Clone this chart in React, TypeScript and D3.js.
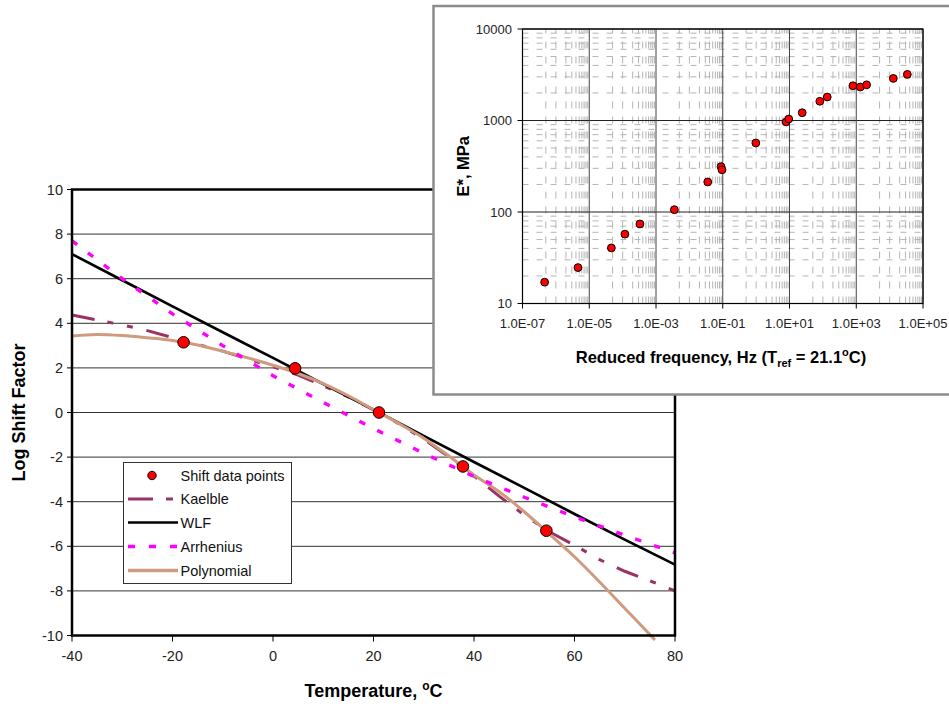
import React from "react";
import * as d3 from "d3";

// ---------- Main chart data ----------
const mainXTicks = [-40, -20, 0, 20, 40, 60, 80];
const mainYTicks = [-10, -8, -6, -4, -2, 0, 2, 4, 6, 8, 10];

const shiftTemps = [-17.8, 4.4, 21.1, 37.8, 54.4];
const shiftLog = [3.15, 1.98, 0, -2.42, -5.3];

const wlfTemps = [-40, -30, -20, -10, 0, 10, 20, 30, 40, 50, 60, 70, 80];
const wlfLog = [7.1, 5.93, 4.76, 3.6, 2.45, 1.28, 0.13, -1.05, -2.22, -3.38, -4.55, -5.7, -6.82];

const arrTemps = [-40, -30, -20, -10, 0, 10, 20, 30, 40, 50, 60, 70, 80];
const arrLog = [7.7, 6.0, 4.42, 3.0, 1.65, 0.45, -0.72, -1.83, -2.87, -3.8, -4.68, -5.5, -6.3];

const kaeTemps = [-40, -35, -30, -25, -20, -15, -10, -5, 0, 5, 10, 15, 20, 25, 30, 35, 40, 45, 50, 55, 60, 65, 70, 75, 80];
const kaeLog = [4.37, 4.15, 3.93, 3.67, 3.36, 3.05, 2.75, 2.4, 2.05, 1.68, 1.2, 0.7, 0.12, -0.5, -1.2, -1.98, -2.85, -3.75, -4.6, -5.35, -5.95, -6.6, -7.12, -7.55, -8.0];

const polyTemps = [-40, -35, -30, -25, -20, -15, -10, -5, 0, 5, 10, 15, 20, 25, 30, 35, 40, 45, 50, 55, 60, 65, 70, 75, 76];
const polyLog = [3.43, 3.5, 3.45, 3.35, 3.23, 3.03, 2.75, 2.45, 2.12, 1.75, 1.3, 0.75, 0.13, -0.49, -1.15, -1.95, -2.8, -3.55, -4.45, -5.45, -6.47, -7.6, -8.78, -9.96, -10.2];

const legendLabels = ["Shift data points", "Kaelble", "WLF", "Arrhenius", "Polynomial"];

// ---------- Inset data ----------
const insetXTicks = [1e-7, 1e-5, 1e-3, 1e-1, 1e1, 1e3, 1e5];
const insetXLabels = ["1.0E-07", "1.0E-05", "1.0E-03", "1.0E-01", "1.0E+01", "1.0E+03", "1.0E+05"];
const insetYTicks = [10, 100, 1000, 10000];
const insetYLabels = ["10", "100", "1000", "10000"];

const redFreq = [4.6e-7, 4.6e-6, 4.6e-5, 1.17e-4, 3.3e-4, 3.55e-3, 3.55e-2, 8.9e-2, 9.5e-2, 0.98, 7.9, 9.5, 24, 81, 135, 794, 1318, 2040, 12900, 33900];
const modulus = [17.1, 24.7, 40.5, 57.3, 74, 106, 213, 313, 289, 568, 964, 1038, 1216, 1622, 1806, 2398, 2322, 2455, 2883, 3190];

const FONT = '"Liberation Sans", Arial, Helvetica, sans-serif';

const COLORS = {
  kaelble: "#993366",
  wlf: "#000000",
  arr: "#ff00ff",
  poly: "#cf9a7e",
  point: "#ff0000",
};

export default function App() {
  // main chart scales
  const x = d3.scaleLinear().domain([-40, 80]).range([72, 675]);
  const y = d3.scaleLinear().domain([-10, 10]).range([635.5, 189.5]);

  const mk = (ts: number[], vs: number[]) =>
    d3
      .line<number>()
      .x((_, i) => x(ts[i]))
      .y((v) => y(v))(vs) || "";

  const kaePath = mk(kaeTemps, kaeLog);
  const wlfPath = mk(wlfTemps, wlfLog);
  const arrPath = mk(arrTemps, arrLog);
  const polyPath = d3
    .line<number>()
    .curve(d3.curveMonotoneX)
    .x((_, i) => x(polyTemps[i]))
    .y((v) => y(v))(polyLog) || "";

  const [x0, x1] = x.range();
  const [yb, yt] = y.range();

  // inset scales
  const ix = d3.scaleLog().domain([1e-7, 1e5]).range([522.5, 923]);
  const iy = d3.scaleLog().domain([10, 10000]).range([303.5, 29]);
  const [ix0, ix1] = ix.range();
  const [iyb, iyt] = iy.range();

  const minorX: number[] = [];
  for (let i = 0; i < insetXTicks.length - 1; i++) {
    const a = insetXTicks[i];
    minorX.push(a * 5);
    for (let m = 1; m <= 9; m++) minorX.push(a * 10 * m);
  }
  const minorY: number[] = [];
  for (let i = 0; i < insetYTicks.length - 1; i++) {
    for (let m = 2; m <= 9; m++) minorY.push(insetYTicks[i] * m);
  }

  // legend layout
  const lg = { x: 123.5, y: 462.5, w: 168, h: 121 };
  const rowY = [475.5, 499, 522.5, 546.5, 570.5];

  return (
    <svg
      width={949}
      height={707}
      style={{ position: "absolute", left: 0, top: 0, fontFamily: FONT, background: "#fff" }}
    >
      <rect x={0} y={0} width={949} height={707} fill="#fff" />
      {/* gridlines */}
      {mainYTicks.slice(1, -1).map((t) => (
        <line key={"g" + t} x1={x0} x2={x1} y1={y(t)} y2={y(t)} stroke="#333" strokeWidth={1} />
      ))}
      {/* y ticks and labels */}
      {mainYTicks.map((t) => (
        <g key={"yt" + t}>
          <line x1={x0 - 5} x2={x0} y1={y(t)} y2={y(t)} stroke="#000" strokeWidth={1} />
          <text x={63} y={y(t) + 5} textAnchor="end" fontSize={14.5} fill="#222">
            {t}
          </text>
        </g>
      ))}
      {mainXTicks.map((t) => (
        <g key={"xt" + t}>
          <line x1={x(t)} x2={x(t)} y1={yb} y2={yb + 6} stroke="#000" strokeWidth={1} />
          <text x={x(t)} y={661} textAnchor="middle" fontSize={14.5} fill="#222">
            {t}
          </text>
        </g>
      ))}

      {/* series */}
      <path d={kaePath} fill="none" stroke={COLORS.kaelble} strokeWidth={3} strokeDasharray="23,13,6,14,6,14" />
      <path d={wlfPath} fill="none" stroke={COLORS.wlf} strokeWidth={2.7} />
      <path d={polyPath} fill="none" stroke={COLORS.poly} strokeWidth={3} />
      <path d={arrPath} fill="none" stroke={COLORS.arr} strokeWidth={3.4} strokeDasharray="6.5,13.5" />
      {shiftTemps.map((t, i) => (
        <circle key={"p" + i} cx={x(t)} cy={y(shiftLog[i])} r={5.8} fill={COLORS.point} stroke="#000" strokeWidth={1} />
      ))}

      {/* plot border */}
      <rect x={x0} y={yt} width={x1 - x0} height={yb - yt} fill="none" stroke="#000" strokeWidth={2.5} />

      {/* axis titles */}
      <text
        transform={`translate(25,${(yt + yb) / 2}) rotate(-90)`}
        textAnchor="middle"
        fontSize={18}
        fontWeight="bold"
        fill="#000"
      >
        Log Shift Factor
      </text>
      <text x={(x0 + x1) / 2} y={697} textAnchor="middle" fontSize={18} fontWeight="bold" fill="#000">
        Temperature,{" "}
        <tspan fontSize={12} dy={-7}>
          o
        </tspan>
        <tspan dy={7}>C</tspan>
      </text>

      {/* legend */}
      <rect x={lg.x} y={lg.y} width={lg.w} height={lg.h} fill="#fff" stroke="#333" strokeWidth={1} />
      <circle cx={152} cy={rowY[0]} r={4.2} fill={COLORS.point} stroke="#000" strokeWidth={1} />
      <line x1={128} x2={178} y1={rowY[1]} y2={rowY[1]} stroke={COLORS.kaelble} strokeWidth={3} strokeDasharray="25,13,7,20" />
      <line x1={128} x2={178} y1={rowY[2]} y2={rowY[2]} stroke={COLORS.wlf} strokeWidth={2.7} />
      <line x1={128} x2={178} y1={rowY[3]} y2={rowY[3]} stroke={COLORS.arr} strokeWidth={3.4} strokeDasharray="7,14" />
      <line x1={128} x2={178} y1={rowY[4]} y2={rowY[4]} stroke={COLORS.poly} strokeWidth={3.5} />
      {legendLabels.map((l, i) => (
        <text key={l} x={180.5} y={rowY[i] + 5} fontSize={14.5} fill="#111">
          {l}
        </text>
      ))}

      {/* ---------- inset ---------- */}
      <rect x={433.5} y={6} width={540} height={388.5} fill="#fff" stroke="#8c8c8c" strokeWidth={2.5} />
      {/* minor grid */}
      {minorY.map((v, i) => (
        <line key={"my" + i} x1={ix0} x2={ix1} y1={iy(v)} y2={iy(v)} stroke="#b4b4b4" strokeWidth={1} strokeDasharray="6,8" />
      ))}
      {minorX.map((v, i) => (
        <line key={"mx" + i} x1={ix(v)} x2={ix(v)} y1={iyb} y2={iyt} stroke="#b4b4b4" strokeWidth={1} strokeDasharray="7,8" />
      ))}
      {/* major grid */}
      {insetYTicks.map((v) => (
        <line key={"My" + v} x1={ix0} x2={ix1} y1={iy(v)} y2={iy(v)} stroke="#222" strokeWidth={1} />
      ))}
      {insetXTicks.map((v) => (
        <line key={"Mx" + v} x1={ix(v)} x2={ix(v)} y1={iyb} y2={iyt} stroke="#444" strokeWidth={1} />
      ))}
      <rect x={ix0} y={iyt} width={ix1 - ix0} height={iyb - iyt} fill="none" stroke="#000" strokeWidth={1.2} />
      {/* inset ticks */}
      {insetYTicks.map((v, i) => (
        <g key={"iyt" + v}>
          <line x1={ix0 - 5} x2={ix0} y1={iy(v)} y2={iy(v)} stroke="#000" />
          <text x={512} y={iy(v) + 4.5} textAnchor="end" fontSize={13} fill="#222">
            {insetYLabels[i]}
          </text>
        </g>
      ))}
      {insetXTicks.map((v, i) => (
        <g key={"ixt" + v}>
          <line x1={ix(v)} x2={ix(v)} y1={iyb} y2={iyb + 5} stroke="#000" />
          <text x={ix(v)} y={328} textAnchor="middle" fontSize={13} fill="#222">
            {insetXLabels[i]}
          </text>
        </g>
      ))}
      {redFreq.map((f, i) => (
        <circle key={"ip" + i} cx={ix(f)} cy={iy(modulus[i])} r={3.9} fill={COLORS.point} stroke="#000" strokeWidth={1} />
      ))}
      <text
        transform={`translate(469,${(iyt + iyb) / 2}) rotate(-90)`}
        textAnchor="middle"
        fontSize={16.5}
        fontWeight="bold"
        fill="#000"
      >
        E*, MPa
      </text>
      <text x={721} y={363} textAnchor="middle" fontSize={16.5} fontWeight="bold" fill="#000">
        Reduced frequency, Hz (T
        <tspan fontSize={11} dy={4}>
          ref
        </tspan>
        <tspan dy={-4}> = 21.1</tspan>
        <tspan fontSize={11} dy={-7}>
          o
        </tspan>
        <tspan dy={7}>C)</tspan>
      </text>
    </svg>
  );
}
